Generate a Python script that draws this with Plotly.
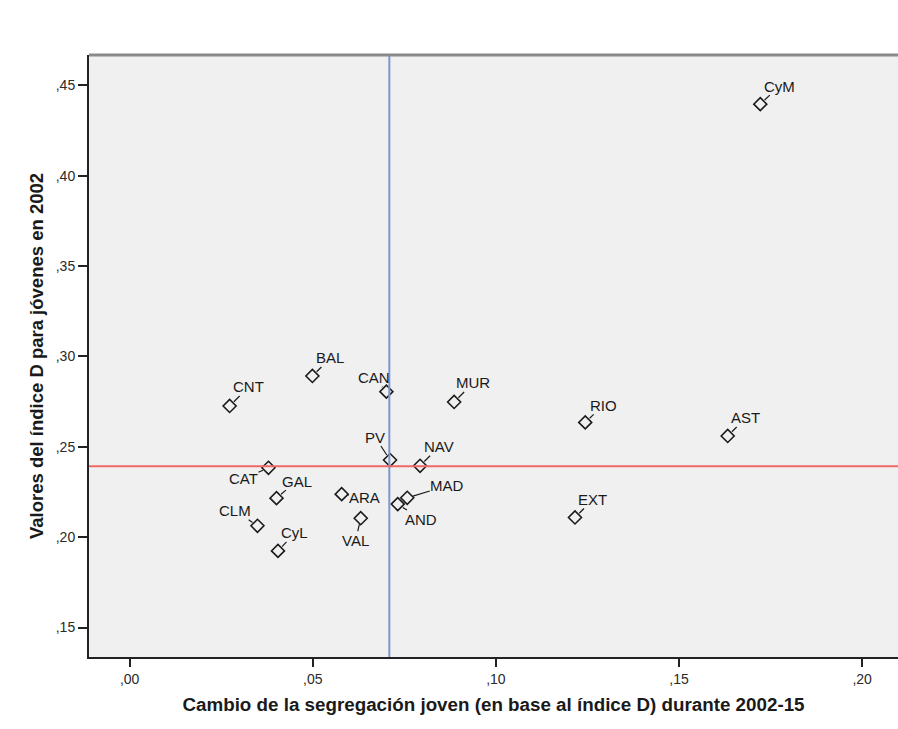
import plotly.graph_objects as go

# ---- data ----
regions = ["CyM", "BAL", "CNT", "CAN", "MUR", "RIO", "AST", "PV", "NAV",
           "CAT", "GAL", "CLM", "CyL", "ARA", "VAL", "MAD", "AND", "EXT"]
cambio_2002_15 = [0.1722, 0.0499, 0.0273, 0.0701, 0.0886, 0.1244, 0.1633, 0.0711, 0.0793,
                  0.0379, 0.0401, 0.0349, 0.0405, 0.0579, 0.0631, 0.0758, 0.0732, 0.1216]
indice_d_2002 = [0.4396, 0.2892, 0.2726, 0.2805, 0.2748, 0.2635, 0.2560, 0.2427, 0.2395,
                 0.2384, 0.2216, 0.2063, 0.1924, 0.2238, 0.2105, 0.2218, 0.2183, 0.2109]
mean_cambio = 0.0709
mean_indice = 0.2393

x_tickvals = [0.00, 0.05, 0.10, 0.15, 0.20]
x_ticktext = [",00", ",05", ",10", ",15", ",20"]
y_tickvals = [0.15, 0.20, 0.25, 0.30, 0.35, 0.40, 0.45]
y_ticktext = [",15", ",20", ",25", ",30", ",35", ",40", ",45"]

# ---- label placement (pixel offsets of label centre from the point) ----
label_offsets = {
    "CyM": (19, -18), "BAL": (18, -18), "CNT": (19, -19), "CAN": (-12, -14),
    "MUR": (19, -19), "RIO": (18, -17), "AST": (18, -18), "PV": (-15, -23),
    "NAV": (19, -19), "CAT": (-25, 11), "GAL": (20, -17), "CLM": (-22, -15),
    "CyL": (17, -18), "ARA": (23, 3), "VAL": (-5, 22), "MAD": (40, -12),
    "AND": (23, 15), "EXT": (18, -18),
}

FONT = "Liberation Sans, Arial, sans-serif"

fig = go.Figure()
fig.add_trace(go.Scatter(
    x=cambio_2002_15, y=indice_d_2002, mode="markers",
    marker=dict(symbol="diamond-open", size=10, color="#1a1a1a",
                line=dict(width=1.6, color="#1a1a1a")),
    hoverinfo="skip", showlegend=False,
))

annotations = []
for name, xv, yv in zip(regions, cambio_2002_15, indice_d_2002):
    ax, ay = label_offsets[name]
    annotations.append(dict(
        x=xv, y=yv, xref="x", yref="y", text=name,
        showarrow=True, ax=ax, ay=ay, arrowhead=0, arrowwidth=1.2,
        arrowcolor="#1a1a1a", standoff=6, borderpad=0,
        font=dict(family=FONT, size=15, color="#1a1a1a"),
    ))

shapes = [
    dict(type="line", xref="x", yref="paper", x0=mean_cambio, x1=mean_cambio, y0=0, y1=1,
         line=dict(color="#7f95d1", width=2)),
    dict(type="line", xref="paper", yref="y", x0=0, x1=1, y0=mean_indice, y1=mean_indice,
         line=dict(color="#f06868", width=2)),
    dict(type="line", xref="paper", yref="paper", x0=0, x1=1, y0=1, y1=1,
         line=dict(color="#8a8a8a", width=3)),
]

fig.update_layout(
    width=898, height=729,
    margin=dict(l=89, r=0, t=55, b=72),
    paper_bgcolor="white", plot_bgcolor="#f0f0f0",
    font=dict(family=FONT, size=14, color="#333333"),
    annotations=annotations, shapes=shapes,
    xaxis=dict(
        range=[-0.0111, 0.2098], tickvals=x_tickvals, ticktext=x_ticktext,
        showgrid=False, zeroline=False, showline=True, linecolor="#222222", linewidth=2,
        ticks="outside", ticklen=8, tickwidth=2, tickcolor="#222222",
        tickfont=dict(family=FONT, size=14, color="#2a2a2a"),
        title=dict(text="Cambio de la segregación joven (en base al índice D) durante 2002-15",
                   font=dict(family=FONT, size=18.8, color="#1a1a1a"), standoff=12),
    ),
    yaxis=dict(
        range=[0.1337, 0.4668], tickvals=y_tickvals, ticktext=y_ticktext,
        showgrid=False, zeroline=False, showline=True, linecolor="#222222", linewidth=2,
        ticks="outside", ticklen=9, tickwidth=2, tickcolor="#222222",
        tickfont=dict(family=FONT, size=14, color="#2a2a2a"),
        title=dict(text="Valores del índice D para jóvenes en 2002",
                   font=dict(family=FONT, size=18.5, color="#1a1a1a"), standoff=7),
    ),
)
fig.update_xaxes(title_font_weight="bold")
fig.update_yaxes(title_font_weight="bold")

fig.write_html("out.html", config={"displayModeBar": False},
               post_script="document.body.style.margin='0px';")
